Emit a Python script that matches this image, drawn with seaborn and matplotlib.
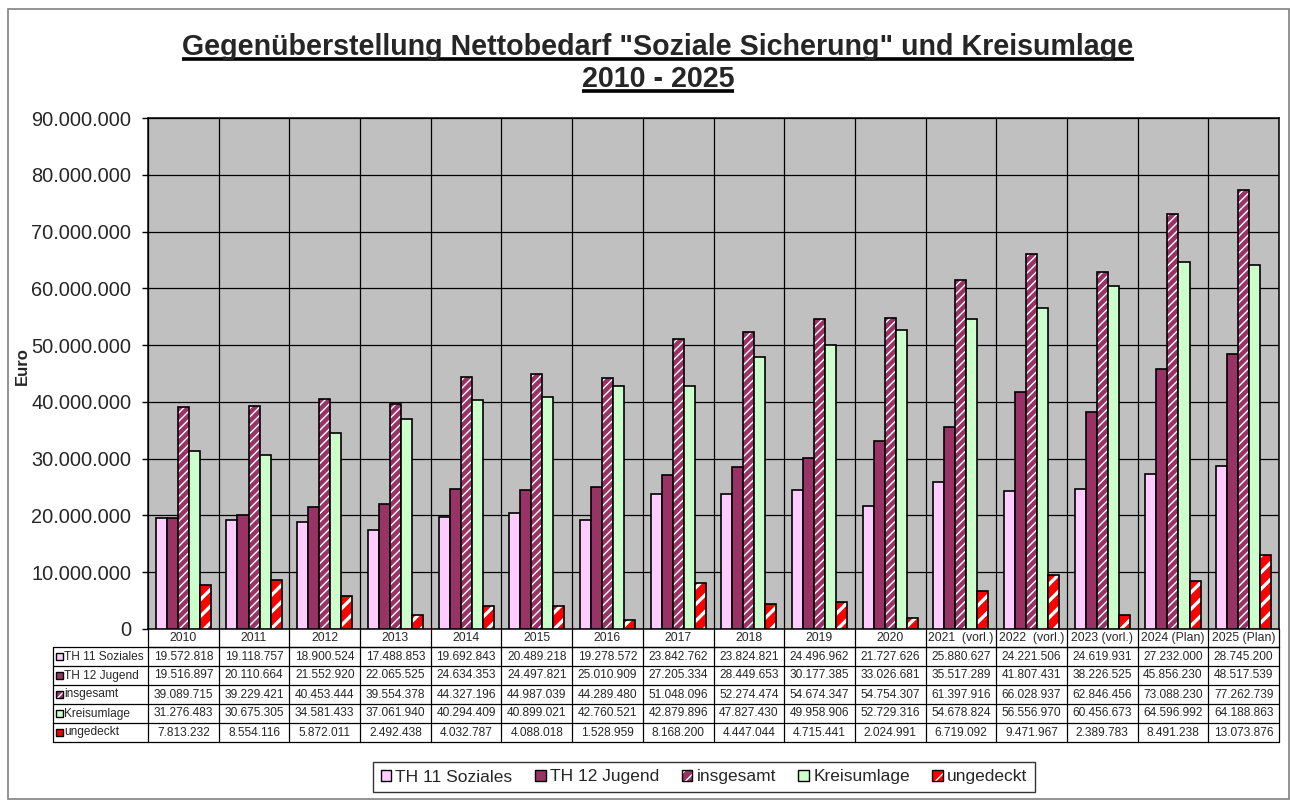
import matplotlib
matplotlib.use("Agg")
import numpy as np
import pandas as pd
import seaborn as sns
import matplotlib.pyplot as plt
from matplotlib.patches import Rectangle, Patch
from matplotlib.lines import Line2D
from matplotlib.ticker import FixedLocator, FuncFormatter

# ---- data -------------------------------------------------------------
years = ["2010", "2011", "2012", "2013", "2014", "2015", "2016", "2017",
         "2018", "2019", "2020", "2021  (vorl.)", "2022  (vorl.)",
         "2023 (vorl.)", "2024 (Plan)", "2025 (Plan)"]
soziales = [19572818, 19118757, 18900524, 17488853, 19692843, 20489218,
            19278572, 23842762, 23824821, 24496962, 21727626, 25880627,
            24221506, 24619931, 27232000, 28745200]
jugend = [19516897, 20110664, 21552920, 22065525, 24634353, 24497821,
          25010909, 27205334, 28449653, 30177385, 33026681, 35517289,
          41807431, 38226525, 45856230, 48517539]
insgesamt = [39089715, 39229421, 40453444, 39554378, 44327196, 44987039,
             44289480, 51048096, 52274474, 54674347, 54754307, 61397916,
             66028937, 62846456, 73088230, 77262739]
kreisumlage = [31276483, 30675305, 34581433, 37061940, 40294409, 40899021,
               42760521, 42879896, 47827430, 49958906, 52729316, 54678824,
               56556970, 60456673, 64596992, 64188863]
ungedeckt = [7813232, 8554116, 5872011, 2492438, 4032787, 4088018,
             1528959, 8168200, 4447044, 4715441, 2024991, 6719092,
             9471967, 2389783, 8491238, 13073876]

series_names = ["TH 11 Soziales", "TH 12 Jugend", "insgesamt",
                "Kreisumlage", "ungedeckt"]
series_values = [soziales, jugend, insgesamt, kreisumlage, ungedeckt]
y_ticks = list(range(0, 90000001, 10000000))

title_line1 = 'Gegenüberstellung Nettobedarf "Soziale Sicherung" und Kreisumlage'
title_line2 = "2010 - 2025"
y_label = "Euro"

# ---- styling ----------------------------------------------------------
colors = ["#FFCCFF", "#993366", "#993366", "#CCFFCC", "#FF0000"]
hatches = [None, None, "////", None, "//"]
hatch_widths = [None, None, 1.0, None, 2.4]

sns.set_style("white")
plt.rcParams["font.family"] = ["Liberation Sans", "DejaVu Sans"]
plt.rcParams["hatch.linewidth"] = 1.0

W, H = 1290, 800
fig = plt.figure(figsize=(W / 100, H / 100), dpi=100)


def fx(x):
    return x / W


def fy(y):
    return 1 - y / H


ax_l, ax_t, ax_r, ax_b = 148, 118, 1279, 629
ax = fig.add_axes([fx(ax_l), fy(ax_b), fx(ax_r - ax_l), (ax_b - ax_t) / H])

df = pd.DataFrame({"Jahr": years})
for name, vals in zip(series_names, series_values):
    df[name] = vals
long = df.melt(id_vars="Jahr", var_name="Reihe", value_name="Euro")

sns.barplot(data=long, x="Jahr", y="Euro", hue="Reihe", order=years,
            hue_order=series_names, palette=colors, width=0.78,
            edgecolor="black", linewidth=1.2, saturation=1, legend=False,
            ax=ax, zorder=3)


def style_hatch(p, hatch, lw):
    p.set_hatch(hatch)
    if hasattr(p, "set_hatchcolor"):
        p.set_hatchcolor("white")
    else:
        p._hatch_color = (1, 1, 1, 1)
    if hasattr(p, "set_hatch_linewidth"):
        p.set_hatch_linewidth(lw)
    else:
        p._hatch_linewidth = lw


for cont, hatch, lw in zip(ax.containers, hatches, hatch_widths):
    if hatch:
        for p in cont.patches:
            style_hatch(p, hatch, lw)

ax.set_facecolor("#C0C0C0")
ax.set_xlim(-0.5, len(years) - 0.5)
ax.set_ylim(0, 90000000)
ax.yaxis.set_major_locator(FixedLocator(y_ticks))
ax.yaxis.set_major_formatter(FuncFormatter(lambda v, _: f"{v:,.0f}".replace(",", ".")))
ax.tick_params(axis="y", labelsize=14.4, length=4, width=1, direction="out",
               pad=8, color="black", left=True)
ax.tick_params(axis="x", which="both", length=0, labelbottom=False)
ax.xaxis.set_minor_locator(FixedLocator(np.arange(-0.5, len(years), 1.0)))
ax.grid(axis="y", which="major", color="black", linewidth=0.9, zorder=0)
ax.grid(axis="x", which="minor", color="black", linewidth=0.9, zorder=0)
ax.grid(axis="x", which="major", visible=False)
ax.set_axisbelow(True)
ax.set_xlabel("")
ax.set_ylabel("")
for s in ax.spines.values():
    s.set_color("black")
    s.set_linewidth(1.1)

# ---- outer frame ------------------------------------------------------
fig.patches.append(Rectangle((fx(8), fy(799)), fx(1281), (799 - 9) / H,
                             transform=fig.transFigure, fill=False,
                             edgecolor="#808080", linewidth=1.2))

# ---- title ------------------------------------------------------------
t1 = fig.text(fx(658), fy(55), title_line1, ha="center", va="baseline",
              fontsize=20.6, fontweight="bold")
t2 = fig.text(fx(658), fy(87), title_line2, ha="center", va="baseline",
              fontsize=20.6, fontweight="bold")
fig.text(fx(22), fy(366), y_label, rotation=90, ha="center", va="center",
         fontsize=12, fontweight="bold")

fig.canvas.draw()
for t, base in ((t1, 55), (t2, 87)):
    bb = t.get_window_extent()
    fig.lines.append(Line2D([bb.x0 / W, bb.x1 / W], [fy(base + 4), fy(base + 4)],
                            transform=fig.transFigure, color="black",
                            linewidth=2.6, solid_capstyle="butt"))

# ---- data table -------------------------------------------------------
n = len(years)
col_w = (ax_r - ax_l) / n
tab_l = 53
row_tops = [629, 647, 666, 685, 704, 723, 742]
lc = "black"


def hline(x0, x1, y, lw=0.9):
    fig.lines.append(Line2D([fx(x0), fx(x1)], [fy(y), fy(y)],
                            transform=fig.transFigure, color=lc, linewidth=lw))


def vline(x, y0, y1, lw=0.9):
    fig.lines.append(Line2D([fx(x), fx(x)], [fy(y0), fy(y1)],
                            transform=fig.transFigure, color=lc, linewidth=lw))


# header row with categories
hline(ax_l, ax_r, row_tops[1])
for i in range(n + 1):
    vline(ax_l + i * col_w, row_tops[0], row_tops[-1])
for i, yr in enumerate(years):
    fig.text(fx(ax_l + (i + 0.5) * col_w), fy((row_tops[0] + row_tops[1]) / 2),
             yr, ha="center", va="center", fontsize=8.8)

# data rows
for r in range(1, len(row_tops)):
    hline(tab_l, ax_r, row_tops[r])
vline(tab_l, row_tops[1], row_tops[-1])

for k, (name, vals) in enumerate(zip(series_names, series_values)):
    y0, y1 = row_tops[k + 1], row_tops[k + 2]
    yc = (y0 + y1) / 2
    key = Rectangle((fx(56), fy(yc + 3.5)), fx(7), 7 / H,
                    transform=fig.transFigure, facecolor=colors[k],
                    edgecolor="black", linewidth=1.0)
    if hatches[k]:
        style_hatch(key, "///" if k == 2 else "//", 1.0)
    fig.patches.append(key)
    fig.text(fx(64), fy(yc), name, ha="left", va="center", fontsize=8.6)
    for i, v in enumerate(vals):
        fig.text(fx(ax_l + (i + 0.5) * col_w), fy(yc),
                 f"{v:,}".replace(",", "."), ha="center", va="center",
                 fontsize=8.6)

# ---- legend -----------------------------------------------------------
handles = []
for k, name in enumerate(series_names):
    h = Patch(facecolor=colors[k], edgecolor="black", linewidth=1.0, label=name)
    if hatches[k]:
        style_hatch(h, "///" if k == 2 else "//", 1.0)
    handles.append(h)
leg = fig.legend(handles=handles, loc="center", bbox_to_anchor=(fx(704), fy(777)),
                 ncol=5, fontsize=12.5, frameon=True, fancybox=False,
                 edgecolor="black", handlelength=0.6, handleheight=0.6,
                 handletextpad=0.25, columnspacing=1.3, borderpad=0.45)
leg.get_frame().set_linewidth(1.0)

fig.savefig("out.png", dpi=100)
